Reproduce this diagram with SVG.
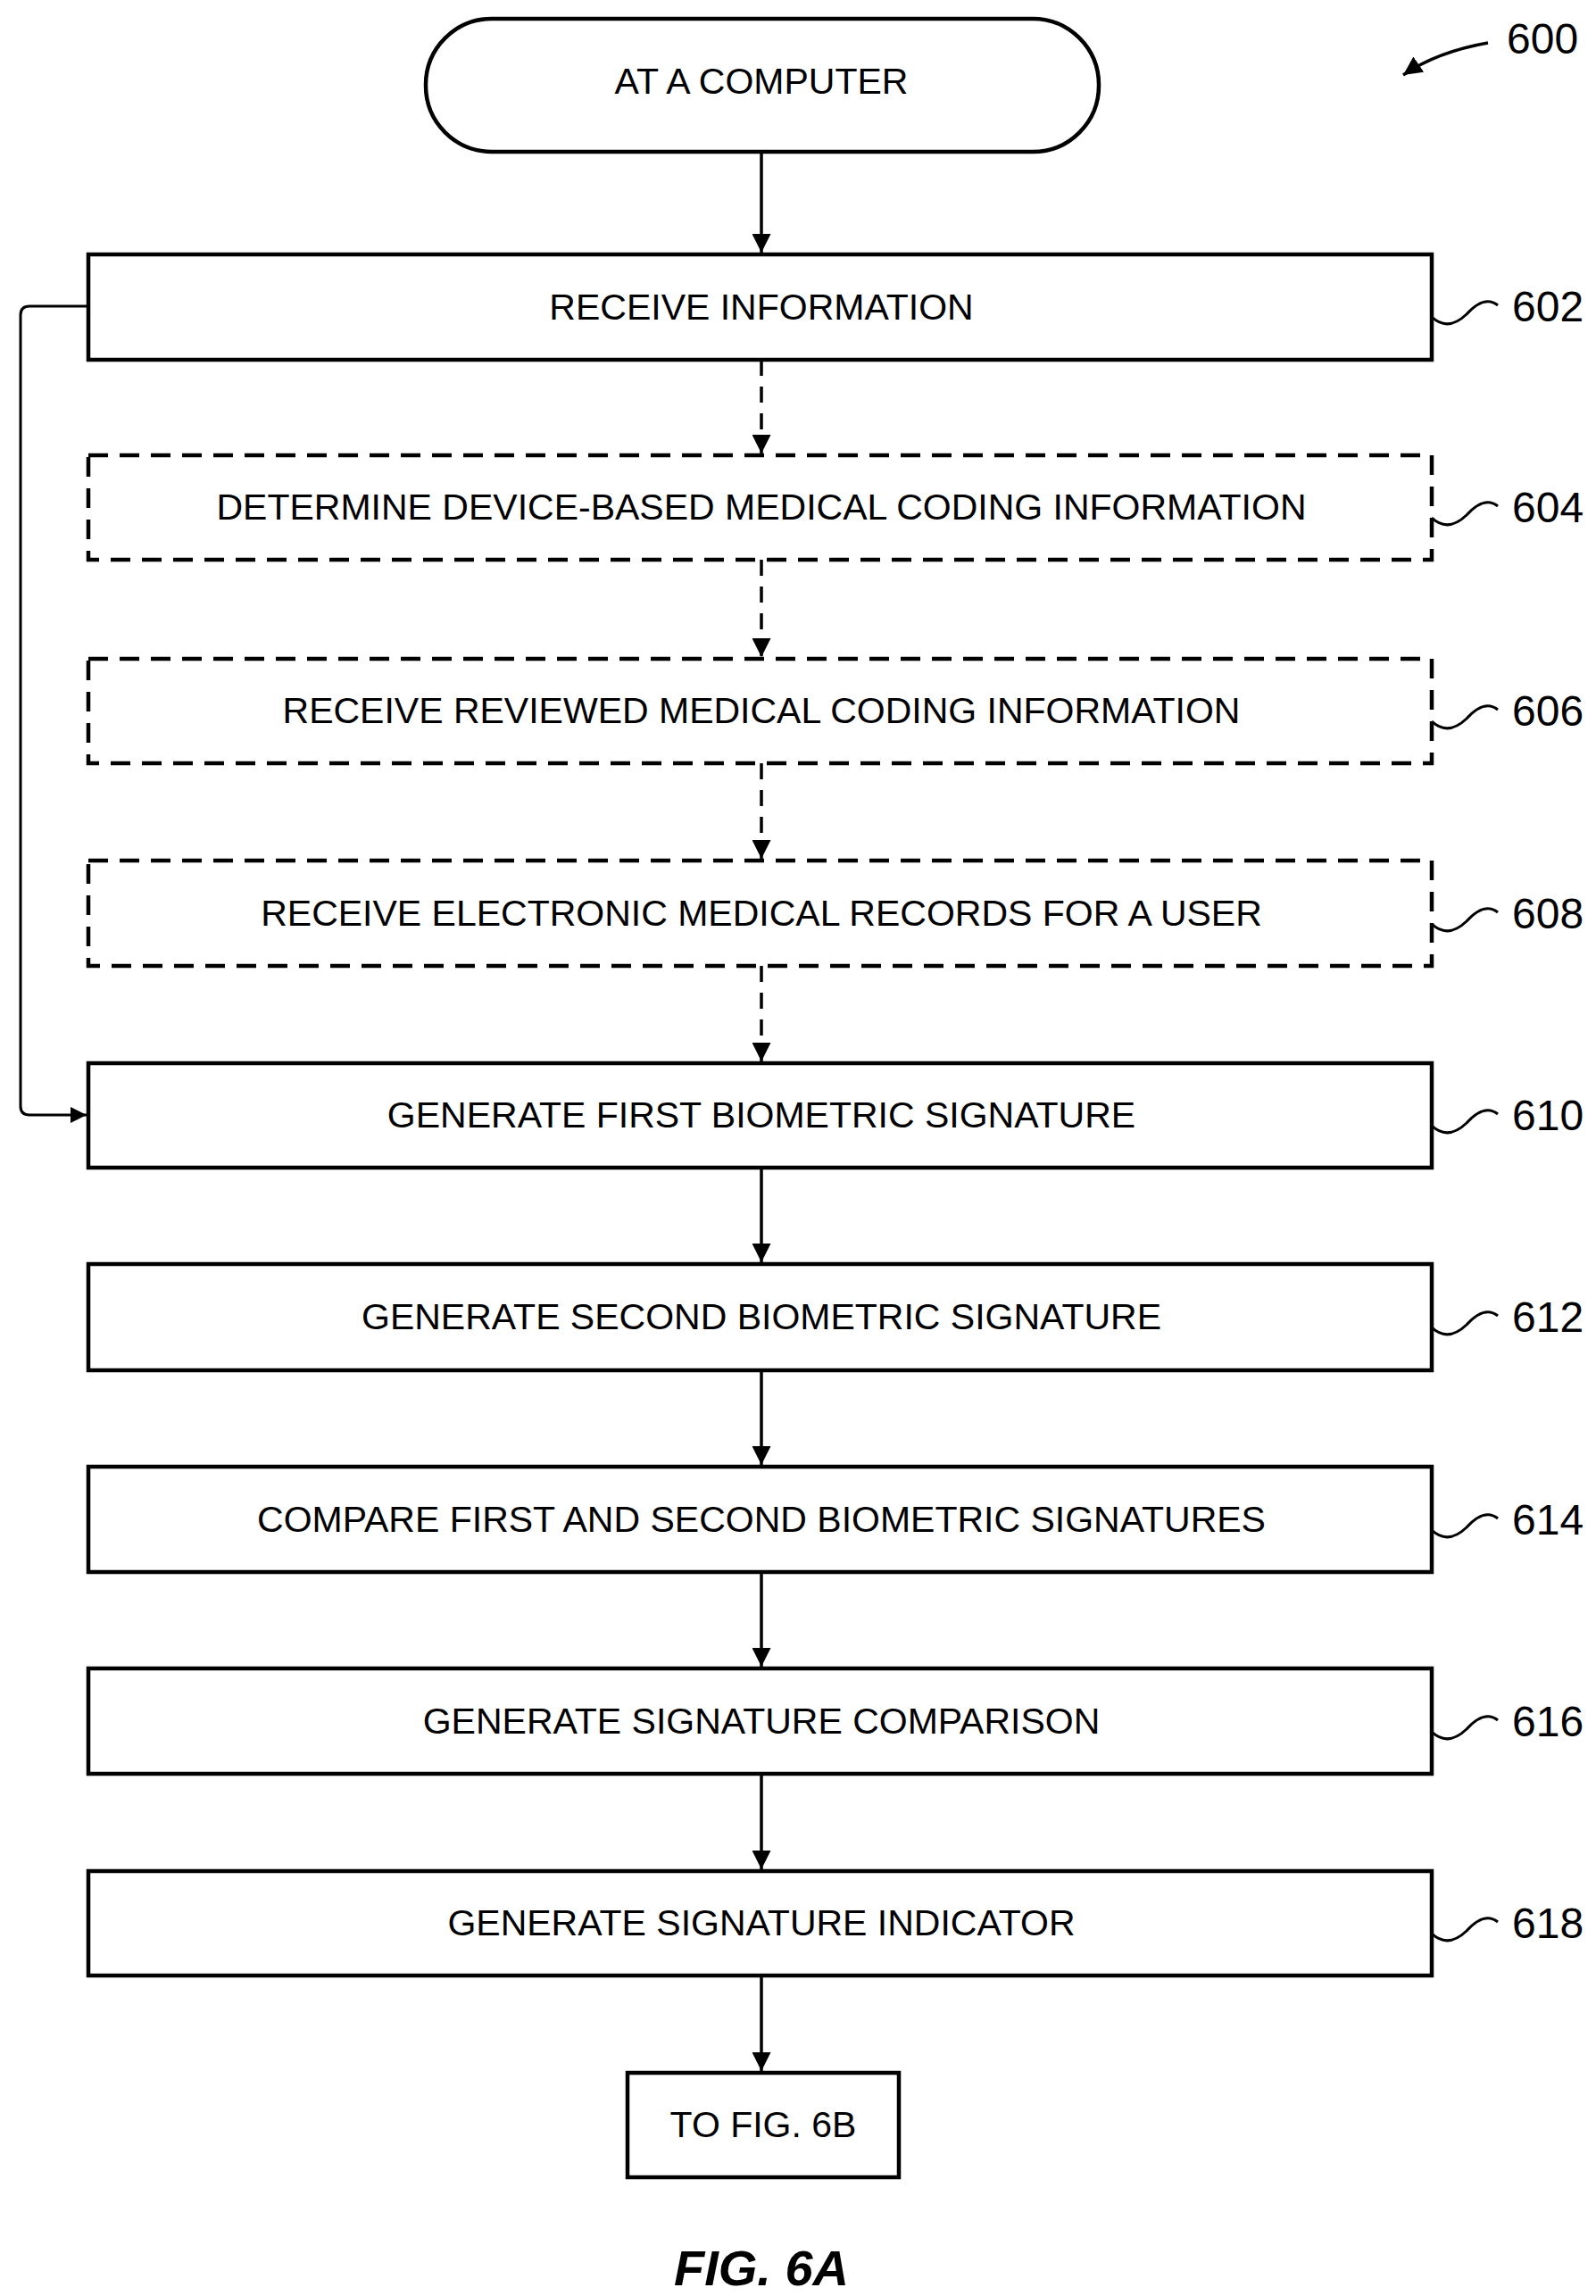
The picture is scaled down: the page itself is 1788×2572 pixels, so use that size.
<svg xmlns="http://www.w3.org/2000/svg" width="1788" height="2572" viewBox="0 0 1788 2572">
<style>
.b{fill:#fff;stroke:#000;stroke-width:4.5}
.d{fill:#fff;stroke:#000;stroke-width:4.5;stroke-dasharray:22 13}
.t{font-family:"Liberation Sans",Arial,sans-serif;font-size:41px;text-anchor:middle;fill:#000}
.n{font-family:"Liberation Sans",Arial,sans-serif;font-size:48px;fill:#000}
.c{fill:none;stroke:#000;stroke-width:3.5}
.cd{fill:none;stroke:#000;stroke-width:3.5;stroke-dasharray:18 12}
.s{fill:none;stroke:#000;stroke-width:3}
</style>
<defs>
<marker id="a" viewBox="0 0 10 10" refX="10" refY="5" markerWidth="6" markerHeight="6" orient="auto"><path d="M0,0 L10,5 L0,10 z" fill="#000"/></marker>
</defs>
<g id="connectors">
<line class="c" x1="853" y1="170" x2="853" y2="283" marker-end="url(#a)"/>
<line class="cd" x1="853" y1="403" x2="853" y2="508" marker-end="url(#a)"/>
<line class="cd" x1="853" y1="627" x2="853" y2="736" marker-end="url(#a)"/>
<line class="cd" x1="853" y1="855" x2="853" y2="962" marker-end="url(#a)"/>
<line class="cd" x1="853" y1="1082" x2="853" y2="1189" marker-end="url(#a)"/>
<line class="c" x1="853" y1="1308" x2="853" y2="1414" marker-end="url(#a)"/>
<line class="c" x1="853" y1="1535" x2="853" y2="1641" marker-end="url(#a)"/>
<line class="c" x1="853" y1="1761" x2="853" y2="1867" marker-end="url(#a)"/>
<line class="c" x1="853" y1="1987" x2="853" y2="2094" marker-end="url(#a)"/>
<line class="c" x1="853" y1="2213" x2="853" y2="2320" marker-end="url(#a)"/>
<path class="s" d="M99,343 H33 Q23,343 23,353 V1239 Q23,1249 33,1249 H97" marker-end="url(#a)"/>
<path class="c" d="M1667,48 Q1610,58 1572,84" marker-end="url(#a)"/>
</g>
<g id="start"><rect class="b" x="477" y="21" width="754" height="149" rx="74"/><text class="t" x="853" y="105">AT A COMPUTER</text></g>
<g id="n602"><rect class="b" x="99" y="285" width="1505" height="118"/><text class="t" x="853" y="358">RECEIVE INFORMATION</text></g>
<g id="n604"><rect class="d" x="99" y="510" width="1505" height="117"/><text class="t" x="853" y="582">DETERMINE DEVICE-BASED MEDICAL CODING INFORMATION</text></g>
<g id="n606"><rect class="d" x="99" y="738" width="1505" height="117"/><text class="t" x="853" y="810">RECEIVE REVIEWED MEDICAL CODING INFORMATION</text></g>
<g id="n608"><rect class="d" x="99" y="964" width="1505" height="118"/><text class="t" x="853" y="1037">RECEIVE ELECTRONIC MEDICAL RECORDS FOR A USER</text></g>
<g id="n610"><rect class="b" x="99" y="1191" width="1505" height="117"/><text class="t" x="853" y="1263">GENERATE FIRST BIOMETRIC SIGNATURE</text></g>
<g id="n612"><rect class="b" x="99" y="1416" width="1505" height="119"/><text class="t" x="853" y="1489">GENERATE SECOND BIOMETRIC SIGNATURE</text></g>
<g id="n614"><rect class="b" x="99" y="1643" width="1505" height="118"/><text class="t" x="853" y="1716">COMPARE FIRST AND SECOND BIOMETRIC SIGNATURES</text></g>
<g id="n616"><rect class="b" x="99" y="1869" width="1505" height="118"/><text class="t" x="853" y="1942">GENERATE SIGNATURE COMPARISON</text></g>
<g id="n618"><rect class="b" x="99" y="2096" width="1505" height="117"/><text class="t" x="853" y="2168">GENERATE SIGNATURE INDICATOR</text></g>
<g id="end"><rect class="b" x="703" y="2322" width="304" height="117"/><text class="t" x="855" y="2394">TO FIG. 6B</text></g>
<g id="labels">
<path class="s" d="M1604,355 Q1622,372 1643,352 Q1663,330 1678,342"/><text class="n" x="1694" y="360">602</text>
<path class="s" d="M1604,580 Q1622,597 1643,577 Q1663,555 1678,567"/><text class="n" x="1694" y="585">604</text>
<path class="s" d="M1604,808 Q1622,825 1643,805 Q1663,783 1678,795"/><text class="n" x="1694" y="813">606</text>
<path class="s" d="M1604,1035 Q1622,1052 1643,1032 Q1663,1010 1678,1022"/><text class="n" x="1694" y="1040">608</text>
<path class="s" d="M1604,1261 Q1622,1278 1643,1258 Q1663,1236 1678,1248"/><text class="n" x="1694" y="1266">610</text>
<path class="s" d="M1604,1487 Q1622,1504 1643,1484 Q1663,1462 1678,1474"/><text class="n" x="1694" y="1492">612</text>
<path class="s" d="M1604,1714 Q1622,1731 1643,1711 Q1663,1689 1678,1701"/><text class="n" x="1694" y="1719">614</text>
<path class="s" d="M1604,1940 Q1622,1957 1643,1937 Q1663,1915 1678,1927"/><text class="n" x="1694" y="1945">616</text>
<path class="s" d="M1604,2166 Q1622,2183 1643,2163 Q1663,2141 1678,2153"/><text class="n" x="1694" y="2171">618</text>
<text class="n" x="1688" y="60">600</text>
<text x="853" y="2560" font-family="Liberation Sans,Arial,sans-serif" font-size="56" font-weight="bold" font-style="italic" text-anchor="middle">FIG. 6A</text>
</g>
</svg>
